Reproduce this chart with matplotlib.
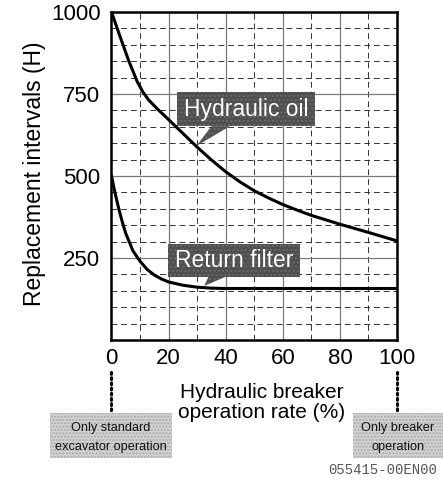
import matplotlib
matplotlib.use("Agg")
import matplotlib.pyplot as plt
from matplotlib.patches import Rectangle, Polygon
from matplotlib.ticker import MultipleLocator

# Replacement interval curves vs. breaker operation rate
rate_oil = [0, 3, 6, 9, 11, 13, 16, 20, 25, 30, 35, 40, 45, 50, 55, 60, 65, 70, 80, 90, 100]
oil_hours = [1000, 925, 852, 788, 756, 732, 705, 672, 630, 588, 549, 513, 482,
             455, 433, 413, 396, 380, 353, 328, 302]

rate_filter = [0, 1, 2, 3, 4, 5, 7.5, 10, 12.5, 15, 17.5, 20, 25, 30, 35, 40, 60, 80, 100]
filter_hours = [500, 458, 420, 385, 353, 325, 272, 240, 215, 198, 186, 177, 167,
                161, 158, 157, 157, 157, 157]

x_ticks = [0, 20, 40, 60, 80, 100]
y_ticks = [250, 500, 750, 1000]

W, H = 443, 480
fig = plt.figure(figsize=(W / 100, H / 100), dpi=100)
ax = fig.add_axes([111.5 / W, 1 - 340 / H, (397 - 111.5) / W, (340 - 12) / H])

ax.set_xlim(0, 100)
ax.set_ylim(0, 1000)

# grid: solid major lines, dashed minor lines
ax.xaxis.set_major_locator(MultipleLocator(20))
ax.xaxis.set_minor_locator(MultipleLocator(10))
ax.yaxis.set_major_locator(MultipleLocator(250))
ax.yaxis.set_minor_locator(MultipleLocator(50))
ax.grid(which="major", color="#7a7a7a", lw=0.9, ls="-")
ax.grid(which="minor", color="#333333", lw=0.7, ls=(0, (6, 4)))
ax.set_axisbelow(True)

ax.set_xticks(x_ticks)
ax.set_yticks(y_ticks)
ax.tick_params(which="both", length=0, labelsize=16, colors="black")
ax.tick_params(axis="y", pad=8)
ax.tick_params(axis="x", pad=6)
for lab in ax.get_xticklabels() + ax.get_yticklabels():
    lab.set_fontfamily("Liberation Sans")

for sp in ax.spines.values():
    sp.set_linewidth(1.8)
    sp.set_color("black")

ax.plot(rate_oil, oil_hours, color="black", lw=2.2, solid_joinstyle="round", zorder=3)
ax.plot(rate_filter, filter_hours, color="black", lw=2.2, solid_joinstyle="round", zorder=3)

# y-axis title
fig.text(35 / W, 1 - 174 / H, "Replacement intervals (H)", fontsize=16.5,
         family="Liberation Sans", rotation=90, ha="center", va="center")

# callout labels
def callout(text, x0, x1, y0, y1, base, tip):
    ax.add_patch(Rectangle((x0, y0), x1 - x0, y1 - y0, facecolor="#4f4f4f",
                           edgecolor="#6a6a6a", hatch="....", lw=0, zorder=4))
    ax.add_patch(Polygon([(base[0], y0), (base[1], y0), tip], closed=True,
                         facecolor="#4f4f4f", edgecolor="#6a6a6a", hatch="....",
                         lw=0, zorder=4))
    ax.text((x0 + x1) / 2, (y0 + y1) / 2, text, color="white", fontsize=16.5,
            family="Liberation Sans", ha="center", va="center", zorder=5)

callout("Hydraulic oil", 22.9, 71.3, 652, 756, (35.0, 41.5), (29.8, 592))
callout("Return filter", 19.9, 66.0, 193, 293, (34.0, 40.0), (32.5, 165))

# x-axis title
fig.text(262 / W, 1 - 392 / H, "Hydraulic breaker", fontsize=15,
         family="Liberation Sans", ha="center", va="center")
fig.text(262 / W, 1 - 412 / H, "operation rate (%)", fontsize=15,
         family="Liberation Sans", ha="center", va="center")

# dotted leaders and end-point boxes
for px in (111.5, 397):
    fig.add_artist(plt.Line2D([px / W, px / W], [1 - 372 / H, 1 - 412 / H],
                              color="black", lw=2.2, ls=(0, (0.6, 1.1)),
                              dash_capstyle="round"))

def end_box(x0, x1, lines):
    fig.add_artist(Rectangle((x0 / W, 1 - 458 / H), (x1 - x0) / W, 45 / H,
                             transform=fig.transFigure, facecolor="#d2d2d2",
                             edgecolor="#a8a8a8", hatch=".....", lw=0))
    for i, s in enumerate(lines):
        fig.text((x0 + x1) / 2 / W, 1 - (428 + 19 * i) / H, s, fontsize=9.2,
                 family="Liberation Sans", ha="center", va="center", color="#111111")

end_box(50, 172, ["Only standard", "excavator operation"])
end_box(353, 443, ["Only breaker", "operation"])

fig.text(437 / W, 1 - 470 / H, "055415-00EN00", fontsize=10,
         family="Liberation Mono", ha="right", va="center", color="#555555")

fig.savefig("out.png", dpi=100)
